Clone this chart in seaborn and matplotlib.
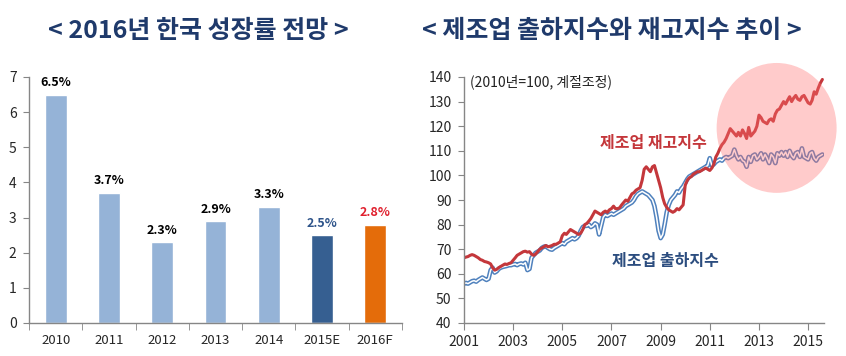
import numpy as np
import pandas as pd
import matplotlib
matplotlib.use("Agg")
import matplotlib.pyplot as plt
import matplotlib.dates as mdates
from matplotlib.patches import Ellipse
import seaborn as sns

sns.set_style("ticks")
plt.rcParams["font.family"] = ["Noto Sans CJK KR", "DejaVu Sans"]

# Growth outlook (left panel).
years = ["2010", "2011", "2012", "2013", "2014", "2015E", "2016F"]
growth = [6.5, 3.7, 2.3, 2.9, 3.3, 2.5, 2.8]
bar_colors = ["#95B3D7"] * 5 + ["#365F91", "#E46C0A"]
label_colors = ["black"] * 5 + ["#2E548A", "#E0202E"]

# Manufacturing shipment / inventory index, monthly from Jan 2001 (right panel).
shipment = [
    56.0, 56.3, 56.0, 56.5, 57.0, 57.2, 56.8, 57.5, 58.0, 58.5, 58.0, 57.5,
    58.0, 61.5, 62.5, 60.5, 61.0, 62.0, 62.5, 62.8, 63.0, 63.2, 63.5, 63.5,
    63.8, 64.0, 63.5, 64.0, 64.2, 63.8, 64.5, 61.5, 62.0, 66.5, 67.5, 68.5,
    69.0, 69.5, 70.5, 71.0, 71.2, 70.5, 70.0, 69.8, 70.5, 71.0, 71.5, 72.0,
    72.5, 72.0, 73.0, 73.5, 74.0, 74.5, 74.0, 74.5, 75.5, 77.5, 79.0, 79.5,
    79.5, 80.0, 79.0, 79.5, 80.5, 80.0, 76.0, 79.5, 83.0, 84.0, 83.5, 84.0,
    84.5, 84.0, 84.5, 85.0, 85.5, 86.0, 86.5, 87.5, 88.0, 88.5, 89.0, 90.0,
    91.5, 92.5, 93.0, 93.5, 93.0, 92.5, 92.0, 91.0, 90.0, 87.5, 83.0, 77.5,
    74.5, 76.0, 80.0, 85.0, 88.0, 90.0, 91.0, 92.0, 93.5, 93.0, 94.5, 95.5,
    97.0, 98.5, 99.5, 100.0, 100.5, 101.0, 101.5, 102.0, 102.5, 103.0, 103.5, 104.0,
    107.0, 104.0, 104.5, 105.5, 106.0, 106.5, 106.0, 107.0, 107.5, 107.0, 107.5, 108.0,
    110.5, 108.0, 106.5, 107.5, 106.0, 105.5, 103.5, 107.5, 105.5, 108.0, 108.5, 106.5,
    107.5, 109.0, 106.5, 108.5, 107.0, 105.0, 108.5, 107.5, 105.0, 109.0, 108.0, 109.5,
    108.0, 109.5, 107.5, 110.0, 108.0, 107.0, 109.0, 109.5, 107.5, 111.0, 107.5, 107.0,
    106.5, 109.0, 109.5, 107.0, 106.0, 107.5, 108.0, 108.5,
]
inventory = [
    66.5, 66.8, 67.0, 67.5, 67.8, 67.5, 67.0, 66.5, 65.8, 65.5, 65.0, 64.8,
    64.5, 64.0, 62.5, 61.5, 61.8, 62.5, 63.0, 63.5, 64.0, 63.8, 64.2, 64.5,
    65.5, 66.5, 67.5, 68.0, 68.5, 69.0, 69.2, 68.8, 69.0, 68.0, 67.5, 68.0,
    69.0, 70.0, 70.5, 71.0, 71.5, 71.0, 71.2, 71.5, 72.0, 72.0, 72.5, 73.0,
    75.5, 76.5, 76.0, 77.0, 78.0, 77.5, 77.0, 76.5, 76.0, 76.5, 78.0, 80.0,
    80.5, 81.5, 82.5, 84.0, 85.5, 85.0, 84.5, 84.0, 85.0, 85.5, 85.0, 86.0,
    86.5, 87.5, 86.5, 86.5, 86.8, 88.0, 89.0, 90.0, 89.5, 91.0, 92.5, 93.0,
    94.0, 94.5, 95.0, 98.0, 102.5, 103.5, 102.5, 101.5, 103.5, 104.0, 101.0, 98.0,
    95.0, 91.0, 88.5, 87.0, 86.0, 85.5, 85.0, 85.5, 86.5, 86.0, 87.0, 88.0,
    96.0, 98.0, 99.0, 99.5, 100.5, 101.0, 101.5, 101.5, 102.0, 102.5, 103.0, 102.5,
    102.0, 103.0, 104.5, 107.5, 109.0, 111.0, 112.5, 113.5, 115.0, 117.0, 119.0, 118.0,
    117.0, 116.0, 117.5, 116.0, 118.5, 117.0, 115.0, 119.5, 116.0, 117.0, 118.0, 120.0,
    124.5, 123.5, 122.0, 121.5, 121.0, 122.5, 123.0, 122.0, 125.0, 126.5, 127.0, 128.5,
    130.0, 129.0, 130.5, 132.0, 130.0, 131.5, 132.5, 131.0, 130.5, 132.0, 132.5, 131.0,
    129.5, 129.0, 130.5, 134.0, 133.0, 135.5, 137.5, 139.0,
]
months = pd.date_range("2001-01-01", periods=len(shipment), freq="MS")
tick_years = [str(y) for y in range(2001, 2016, 2)]

df_bar = pd.DataFrame({"year": years, "growth": growth})
df_line = pd.DataFrame({"month": months, "shipment": shipment, "inventory": inventory})

axis_gray = "#868686"
title_color = "#1F3A6B"

fig = plt.figure(figsize=(8.46, 3.56), dpi=100)
ax1 = fig.add_axes([29 / 846, 33 / 356, 373 / 846, 246 / 356])
ax2 = fig.add_axes([464 / 846, 33 / 356, 360 / 846, 246 / 356])

# Left: bar chart.
sns.barplot(data=df_bar, x="year", y="growth", hue="year", palette=bar_colors,
            width=0.41, saturation=1, legend=False, ax=ax1)
for i, (v, c) in enumerate(zip(growth, label_colors)):
    ax1.annotate(f"{v}%", (i, v), xytext=(0, 4), textcoords="offset points",
                 ha="center", va="bottom", fontsize=9, fontweight="bold", color=c)
ax1.set_ylim(0, 7)
ax1.set_xlim(-0.5, 6.5)
ax1.set_yticks(range(0, 8))
ax1.set_xticks(np.arange(-0.5, 7, 1), minor=True)
ax1.tick_params(axis="x", which="major", length=0, pad=8, labelsize=9.5)
ax1.tick_params(axis="x", which="minor", length=5, color=axis_gray)
ax1.tick_params(axis="y", length=4, color=axis_gray, pad=5, labelsize=10)
ax1.set_xlabel("")
ax1.set_ylabel("")

# Right: shipment (double line) and inventory.
sns.lineplot(data=df_line, x="month", y="shipment", color="#4F81BD", linewidth=3.3, ax=ax2)
sns.lineplot(data=df_line, x="month", y="shipment", color="white", linewidth=1.1, ax=ax2)
sns.lineplot(data=df_line, x="month", y="inventory", color="#C4373B", linewidth=2.2, ax=ax2)

highlight = Ellipse((mdates.date2num(pd.Timestamp("2013-09-20")), 119.3),
                    width=4.88 * 365.25, height=52.8, facecolor="#FF6F6F",
                    alpha=0.36, edgecolor="none", clip_on=False, zorder=5)
ax2.add_patch(highlight)

ax2.set_ylim(40, 140)
ax2.set_yticks(range(40, 141, 10))
ax2.set_xlim(pd.Timestamp("2001-01-01"), pd.Timestamp("2015-08-25"))
ax2.set_xticks(pd.to_datetime([f"{y}-01-01" for y in tick_years]))
ax2.set_xticklabels(tick_years)
ax2.tick_params(axis="x", length=5, color=axis_gray, pad=4, labelsize=10)
ax2.tick_params(axis="y", length=4, color=axis_gray, pad=5, labelsize=10)
ax2.set_xlabel("")
ax2.set_ylabel("")

for ax in (ax1, ax2):
    sns.despine(ax=ax)
    for s in ("left", "bottom"):
        ax.spines[s].set_color(axis_gray)
        ax.spines[s].set_linewidth(1)

# Titles and notes.
fig.text(198 / 846, 1 - 31 / 356, "< 2016년 한국 성장률 전망 >", ha="center", va="center",
         fontsize=18, fontweight="bold", color=title_color)
fig.text(612 / 846, 1 - 31 / 356, "< 제조업 출하지수와 재고지수 추이 >", ha="center", va="center",
         fontsize=18, fontweight="bold", color=title_color)
fig.text(470 / 846, 1 - 82 / 356, "(2010년=100, 계절조정)", ha="left", va="center",
         fontsize=10, color="#222222")
fig.text(600 / 846, 1 - 143 / 356, "제조업 재고지수", ha="left", va="center",
         fontsize=11.5, fontweight="bold", color="#C4373B")
fig.text(612 / 846, 1 - 261 / 356, "제조업 출하지수", ha="left", va="center",
         fontsize=11.5, fontweight="bold", color="#2C4D7F")

fig.savefig("out.png", dpi=100)
